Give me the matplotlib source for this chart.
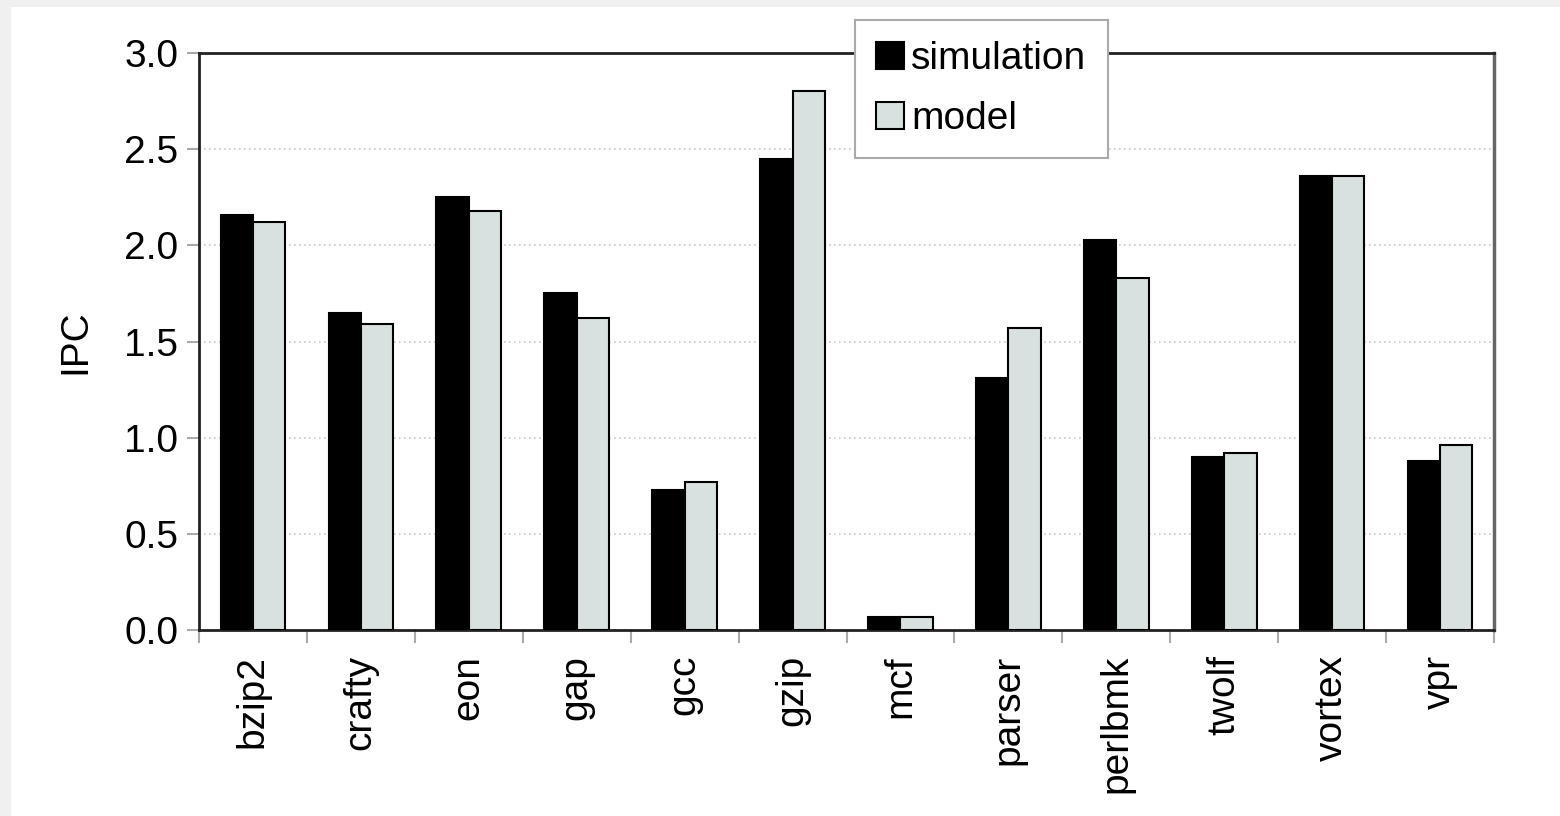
import matplotlib
matplotlib.use("Agg")
import matplotlib.pyplot as plt
import numpy as np
from matplotlib.patches import Rectangle

categories = ["bzip2", "crafty", "eon", "gap", "gcc", "gzip", "mcf",
              "parser", "perlbmk", "twolf", "vortex", "vpr"]
simulation = [2.16, 1.65, 2.25, 1.75, 0.73, 2.45, 0.07, 1.31, 2.03, 0.90, 2.36, 0.88]
model = [2.12, 1.59, 2.18, 1.62, 0.77, 2.80, 0.07, 1.57, 1.83, 0.92, 2.36, 0.96]
yticks = [0.0, 0.5, 1.0, 1.5, 2.0, 2.5, 3.0]

plt.rcParams['font.family'] = ['Liberation Sans', 'DejaVu Sans']
fs = 28

fig = plt.figure(figsize=(15.6, 8.16), dpi=100, facecolor='#f0f0f0')
fig.patches.append(Rectangle((11/1560, 0), 1 - 11/1560, 1 - 7/816,
                             transform=fig.transFigure, facecolor='white',
                             edgecolor='none', zorder=-10))
ax = fig.add_axes([199/1560, 1 - 630/816, (1494 - 199)/1560, (630 - 53)/816])
ax.set_facecolor('white')

x = np.arange(len(categories))
w = 0.3
ax.bar(x - w/2, simulation, width=w, color='black', edgecolor='black',
       linewidth=1.5, label='simulation', zorder=3)
ax.bar(x + w/2, model, width=w, color='#d8e0e0', edgecolor='black',
       linewidth=1.5, label='model', zorder=3)

ax.set_xlim(-0.5, len(categories) - 0.5)
ax.set_ylim(0, 3.0)
ax.set_yticks(yticks)
ax.set_yticklabels([f"{v:.1f}" for v in yticks], fontsize=fs)
ax.set_xticks(x)
ax.set_xticklabels(categories, rotation=90, fontsize=fs, va='top', ha='center')
ax.set_xticks(np.arange(-0.5, len(categories)), minor=True)
ax.tick_params(axis='x', which='major', length=0, pad=18)
ax.tick_params(axis='x', which='minor', length=9, width=1.5, color='#aaaaaa', direction='out')
ax.tick_params(axis='y', length=9, width=1.5, color='#aaaaaa', pad=6, direction='out')

ax.yaxis.grid(True, linestyle=(0, (1, 2)), color='#c8c8c8', linewidth=1.2, zorder=0)
ax.set_axisbelow(True)

for side in ['left', 'bottom', 'top']:
    ax.spines[side].set_color('#222222')
    ax.spines[side].set_linewidth(2)
ax.spines['right'].set_color('#666666')
ax.spines['right'].set_linewidth(2.5)

ax.set_ylabel("IPC", fontsize=fs, labelpad=22)

leg = fig.legend(loc='upper left', bbox_to_anchor=(855/1560, 1 - 20/816),
                 fontsize=fs, frameon=True, fancybox=False, framealpha=1,
                 edgecolor='#aaaaaa', handlelength=0.7, handleheight=0.7,
                 handletextpad=0.2, labelspacing=0.6, borderpad=0.55,
                 borderaxespad=0)
leg.get_frame().set_linewidth(1.5)

fig.savefig("out.png", dpi=100, facecolor=fig.get_facecolor())
